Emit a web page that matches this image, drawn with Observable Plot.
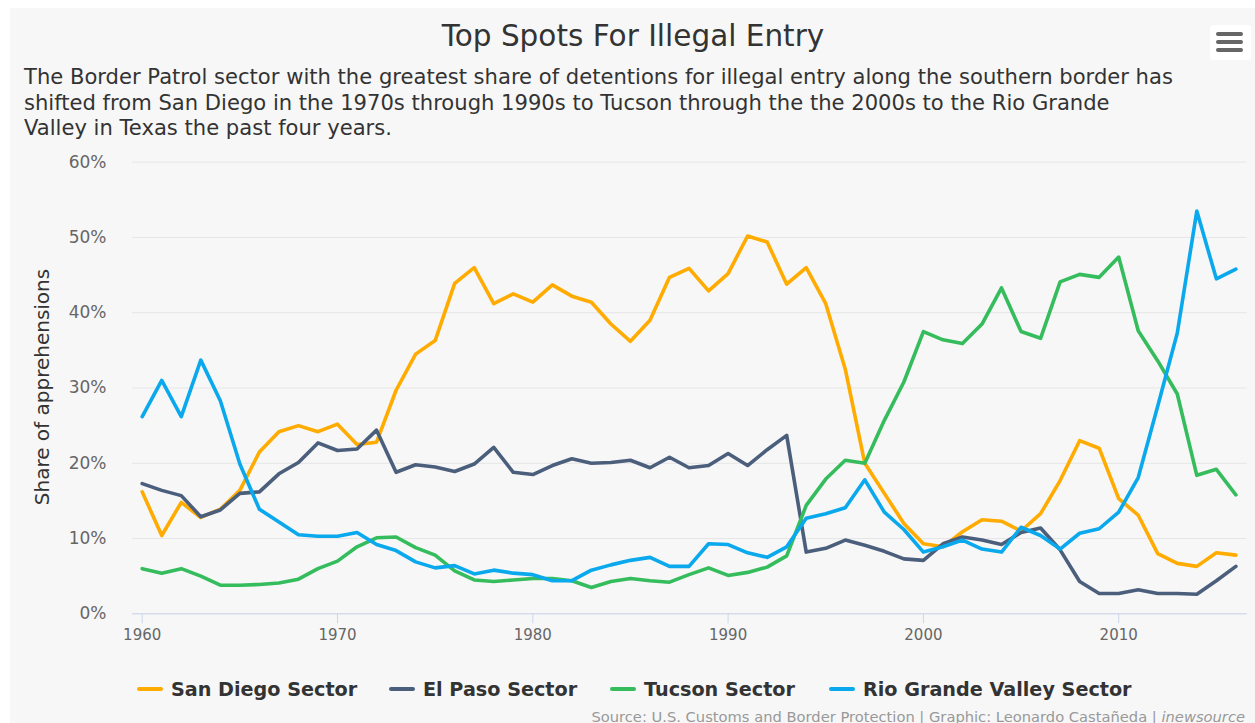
<!DOCTYPE html>
<html>
<head>
<meta charset="utf-8">
<script src="https://cdn.jsdelivr.net/npm/d3@7"></script>
<script src="https://cdn.jsdelivr.net/npm/@observablehq/plot@0.6"></script>
<style>
  html, body { margin: 0; padding: 0; background: #ffffff; }
  body { width: 1255px; height: 723px; overflow: hidden; position: relative; font-family: "DejaVu Sans", Verdana, sans-serif; }
  #card { position: absolute; left: 10px; top: 8px; width: 1245px; height: 715px; background: #f7f7f7; }
  #title { position: absolute; left: 0; width: 1266px; top: 19px; text-align: center; font-size: 29.5px; color: #333; }
  #subtitle { position: absolute; left: 24px; top: 64px; font-size: 21.1px; line-height: 25.5px; color: #333; white-space: nowrap; }
  #menu { position: absolute; left: 1210px; top: 25px; width: 41px; height: 35px; background: #fff; border-radius: 3px; }
  #menu div { position: absolute; left: 6px; width: 27px; height: 4px; border-radius: 2px; background: #666; }
  #chart { position: absolute; left: 0; top: 140px; }
  #ytitle { position: absolute; left: 42px; top: 387px; transform: translate(-50%, -50%) rotate(-90deg); font-size: 20px; color: #333; white-space: nowrap; }
  .leg { position: absolute; top: 677px; height: 24px; display: flex; align-items: center; font-weight: bold; font-size: 19.2px; color: #333; white-space: nowrap; }
  .leg span.sym { display: inline-block; width: 26px; height: 4px; border-radius: 2px; margin-right: 8px; }
  #source { position: absolute; right: 10px; top: 708px; font-size: 14.7px; color: #999; white-space: nowrap; }
</style>
</head>
<body>
<div id="card"></div>
<div id="title">Top Spots For Illegal Entry</div>
<div id="subtitle">The Border Patrol sector with the greatest share of detentions for illegal entry along the southern border has<br>shifted from San Diego in the 1970s through 1990s to Tucson through the the 2000s to the Rio Grande<br>Valley in Texas the past four years.</div>
<div id="menu"><div style="top:7px"></div><div style="top:15px"></div><div style="top:23px"></div></div>
<div id="chart"></div>
<div id="ytitle">Share of apprehensions</div>
<div id="legend"></div>
<div id="source">Source: U.S. Customs and Border Protection | Graphic: Leonardo Castañeda | <i>inewsource</i></div>
<script>
const years = [1960,1961,1962,1963,1964,1965,1966,1967,1968,1969,
  1970,1971,1972,1973,1974,1975,1976,1977,1978,1979,
  1980,1981,1982,1983,1984,1985,1986,1987,1988,1989,
  1990,1991,1992,1993,1994,1995,1996,1997,1998,1999,
  2000,2001,2002,2003,2004,2005,2006,2007,2008,2009,
  2010,2011,2012,2013,2014,2015,2016];

const sanDiego = [16.2,10.4,14.8,12.8,13.9,16.4,21.5,24.2,25.0,24.2,
  25.2,22.5,22.8,29.7,34.5,36.3,43.9,46.0,41.2,42.5,
  41.4,43.7,42.2,41.4,38.5,36.2,39.0,44.7,45.9,42.9,
  45.2,50.2,49.4,43.8,46.0,41.2,32.5,20.0,16.0,12.0,
  9.3,8.9,10.9,12.5,12.3,11.0,13.3,17.7,23.0,22.0,
  15.3,13.1,8.0,6.7,6.3,8.1,7.8];

const elPaso = [17.3,16.4,15.7,12.9,13.8,16.0,16.2,18.6,20.1,22.7,
  21.7,21.9,24.4,18.8,19.8,19.5,18.9,19.9,22.1,18.8,
  18.5,19.7,20.6,20.0,20.1,20.4,19.4,20.8,19.4,19.7,
  21.3,19.7,21.8,23.7,8.2,8.7,9.8,9.1,8.3,7.3,
  7.1,9.3,10.2,9.8,9.2,10.8,11.4,8.5,4.3,2.7,
  2.7,3.2,2.7,2.7,2.6,4.4,6.3];

const tucson = [6.0,5.4,6.0,5.0,3.8,3.8,3.9,4.1,4.6,6.0,
  7.0,8.9,10.1,10.2,8.8,7.8,5.7,4.5,4.3,4.5,
  4.7,4.7,4.4,3.5,4.3,4.7,4.4,4.2,5.2,6.1,
  5.1,5.5,6.2,7.7,14.4,17.9,20.4,20.0,25.7,30.8,
  37.5,36.4,35.9,38.5,43.3,37.5,36.6,44.1,45.1,44.7,
  47.4,37.6,33.6,29.2,18.4,19.2,15.8];

const rioGrande = [26.2,31.0,26.2,33.7,28.3,19.9,13.9,12.2,10.5,10.3,
  10.3,10.8,9.2,8.4,6.9,6.1,6.4,5.3,5.8,5.4,
  5.2,4.4,4.4,5.8,6.5,7.1,7.5,6.3,6.3,9.3,
  9.2,8.1,7.5,8.9,12.7,13.3,14.1,17.8,13.5,11.2,
  8.2,8.9,9.8,8.6,8.2,11.5,10.4,8.6,10.7,11.3,
  13.5,18.1,27.6,37.3,53.5,44.5,45.8];

const seriesNames = ["San Diego Sector", "El Paso Sector", "Tucson Sector", "Rio Grande Valley Sector"];
const seriesColors = ["#ffab00", "#4b5f7c", "#35bc5d", "#0aa8ec"];
const xTicks = [1960, 1970, 1980, 1990, 2000, 2010];
const yTicks = [0, 10, 20, 30, 40, 50, 60];

const seriesValues = [sanDiego, elPaso, tucson, rioGrande];
const rows = [];
seriesNames.forEach((name, i) => {
  years.forEach((yr, j) => rows.push({series: name, year: yr, value: seriesValues[i][j]}));
});

const chart = Plot.plot({
  width: 1255,
  height: 520,
  marginLeft: 132,
  marginRight: 8.3,
  marginTop: 21.7,
  marginBottom: 46.7,
  style: { background: "transparent", fontFamily: "DejaVu Sans, Verdana, sans-serif", overflow: "visible" },
  x: { domain: [1959.503, 2016.58] },
  y: { domain: [0, 60] },
  color: { domain: seriesNames, range: seriesColors },
  marks: [
    Plot.gridY(yTicks, { stroke: "#e6e6e6", strokeOpacity: 1, strokeWidth: 1 }),
    Plot.ruleY([0], { stroke: "#ccd6eb", strokeWidth: 1 }),
    Plot.axisX(xTicks, { tickSize: 10, stroke: "#ccd6eb", strokeOpacity: 1, fill: "#666", fontSize: 15, tickPadding: 6, tickFormat: d => String(d), label: null }),
    Plot.axisY(yTicks, { tickSize: 0, tickPadding: 26, fill: "#666", fontSize: 17, tickFormat: d => d + "%", label: null }),
    Plot.line(rows, { x: "year", y: "value", z: "series", stroke: "series", strokeWidth: 3.6, strokeLinejoin: "round", strokeLinecap: "round" })
  ]
});
document.getElementById("chart").appendChild(chart);

const legendLefts = [137, 389, 610, 829];
const legend = document.getElementById("legend");
seriesNames.forEach((name, i) => {
  const item = document.createElement("div");
  item.className = "leg";
  item.style.left = legendLefts[i] + "px";
  item.innerHTML = `<span class="sym" style="background:${seriesColors[i]}"></span>${name}`;
  legend.appendChild(item);
});
</script>
</body>
</html>
